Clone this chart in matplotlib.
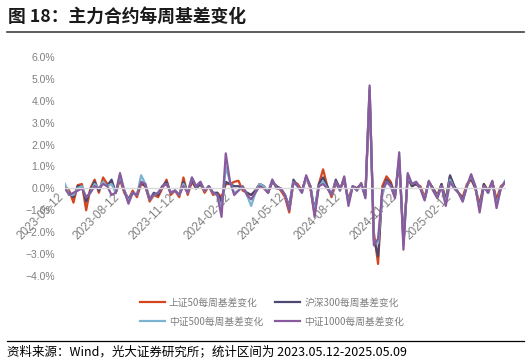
import matplotlib
matplotlib.use("Agg")
import matplotlib.pyplot as plt
import matplotlib.dates as mdates
import matplotlib.transforms as mtransforms
from matplotlib.lines import Line2D
from matplotlib.ticker import PercentFormatter, MultipleLocator
import pandas as pd

plt.rcParams['font.family'] = ['Noto Sans CJK SC', 'DejaVu Sans']

# weekly dates 2023-05-12 .. 2025-05-09
dates = pd.date_range("2023-05-12", periods=105, freq="7D")

# weekly basis change, %
sz50 = [0.1, -0.1, -0.65, 0.15, 0.2, -1.0, 0.0, 0.4, -0.2, 0.5,
        0.2, 0.3, -0.2, 0.4, -0.2, -0.5, -0.1, -0.4, 0.2, 0.1,
        -0.6, -0.3, -0.4, 0.0, 0.4, -0.3, -0.1, -0.4, 0.5, -0.3,
        0.3, 0.0, 0.2, -0.2, 0.1, -0.3, -0.2, -0.4, 0.2, 0.2,
        0.3, 0.35, -0.1, -0.2, -0.3, -0.1, 0.2, 0.1, -0.2, 0.3,
        0.1, -0.1, -0.4, -1.1, 0.3, 0.2, -0.1, 0.5, 0.0, -1.2,
        0.2, 0.87, 0.1, -0.4, 0.2, 0.0, 0.3, -0.5, 0.1, 0.0,
        0.2, -0.3, 4.3, -2.0, -3.45, 0.1, 0.55, 0.3, -0.3, 1.2,
        -2.3, 0.5, 0.1, 0.2, 0.1, -0.4, 0.3, 0.0, -0.3, 0.2,
        -0.5, 0.55, 0.1, -0.2, -0.4, 0.2, 0.4, 0.0, -0.7, 0.2,
        -0.1, 0.3, -0.5, 0.1, 0.25]

hs300 = [0.0, -0.2, -0.4, 0.1, 0.1, -0.6, -0.1, 0.3, -0.1, 0.3,
         0.1, 0.4, -0.2, 0.5, -0.1, -0.5, -0.2, -0.3, 0.3, 0.1,
         -0.5, -0.2, -0.3, 0.1, 0.3, -0.2, -0.1, -0.3, 0.3, -0.2,
         0.4, 0.0, 0.2, -0.1, 0.1, -0.2, -0.2, -0.6, 0.3, 0.2,
         0.1, 0.1, 0.0, -0.2, -0.3, -0.1, 0.2, 0.1, -0.2, 0.3,
         0.1, 0.0, -0.3, -0.8, 0.4, 0.1, -0.1, 0.5, 0.1, -1.0,
         0.2, 0.5, 0.1, -0.3, 0.4, 0.0, 0.4, -0.6, 0.1, 0.0,
         0.2, -0.3, 4.5, -2.3, -3.1, -0.1, 0.4, 0.2, -0.3, 1.3,
         -2.4, 0.5, 0.1, 0.2, 0.0, -0.5, 0.3, 0.0, -0.4, 0.2,
         -0.6, 0.6, 0.1, -0.2, -0.5, 0.1, 0.5, 0.0, -0.9, 0.2,
         -0.2, 0.3, -0.7, 0.0, 0.3]

zz500 = [0.2, -0.3, -0.3, 0.0, 0.1, -0.4, -0.2, 0.2, 0.0, 0.3,
         0.1, 0.2, -0.2, 0.6, -0.1, -0.6, -0.2, -0.3, 0.6, 0.2,
         -0.5, -0.3, -0.2, 0.1, 0.2, -0.2, -0.1, -0.3, 0.2, -0.2,
         0.5, 0.1, 0.3, -0.1, 0.1, -0.2, -0.3, -1.0, 1.0, 0.3,
         -0.2, -0.1, 0.1, -0.3, -0.8, -0.2, 0.2, 0.1, -0.2, 0.4,
         0.0, 0.0, -0.3, -0.9, 0.3, 0.1, -0.2, 0.5, 0.1, -1.1,
         0.1, 0.3, 0.0, -0.3, 0.3, -0.1, 0.5, -0.7, 0.1, -0.1,
         0.2, -0.4, 4.6, -2.4, -2.5, -0.3, 0.3, 0.1, -0.4, 1.5,
         -2.6, 0.6, 0.2, 0.3, 0.0, -0.5, 0.3, -0.1, -0.4, 0.1,
         -0.7, 0.4, 0.0, -0.2, -0.6, 0.1, 0.6, 0.1, -1.0, 0.1,
         -0.2, 0.3, -0.8, 0.0, 0.35]

zz1000 = [0.0, -0.3, -0.2, -0.1, 0.0, -0.4, -0.2, 0.1, 0.0, 0.2,
          0.1, -0.3, -0.2, 0.7, -0.1, -0.7, -0.2, -0.3, 0.3, 0.2,
          -0.5, -0.3, -0.2, 0.1, 0.2, -0.2, -0.1, -0.3, 0.1, -0.2,
          0.5, 0.1, 0.3, -0.1, 0.1, -0.2, -0.3, -1.3, 1.6, 0.3,
          -0.3, -0.1, 0.1, -0.3, -0.5, -0.2, 0.1, 0.0, -0.2, 0.4,
          0.0, 0.0, -0.3, -1.0, 0.3, 0.1, -0.2, 0.6, 0.1, -1.3,
          0.1, 0.2, 0.0, -0.3, 0.3, -0.1, 0.55, -0.8, 0.1, -0.1,
          0.25, -0.45, 4.7, -2.6, -2.3, -0.1, 0.3, 0.1, -0.45, 1.65,
          -2.8, 0.7, 0.2, 0.3, 0.0, -0.55, 0.35, -0.1, -0.45, 0.1,
          -0.8, 0.3, 0.0, -0.2, -0.6, 0.1, 0.65, 0.1, -1.1, 0.1,
          -0.2, 0.35, -0.9, 0.0, 0.3]

names = ["上证50每周基差变化", "沪深300每周基差变化", "中证500每周基差变化", "中证1000每周基差变化"]
colors = ["#D4461F", "#4A4870", "#7DB3CF", "#8A5A9F"]
tick_dates = pd.date_range("2023-05-12", periods=8, freq=pd.DateOffset(months=3))

fig = plt.figure(figsize=(5.31, 3.64), dpi=100)
ax = fig.add_axes([65 / 531, 1 - 276 / 364, 440 / 531, 219 / 364])

lines = {}
for name, vals, c in zip(names, [sz50, hs300, zz500, zz1000], colors):
    lines[name], = ax.plot(dates, vals, color=c, lw=1.6)

ax.set_ylim(-4, 6)
ax.set_xlim(dates[0], dates[-1])
ax.yaxis.set_major_locator(MultipleLocator(1))
ax.yaxis.set_major_formatter(PercentFormatter(decimals=1))
for s in ["top", "right", "left"]:
    ax.spines[s].set_visible(False)
ax.spines["bottom"].set_position(("data", 0))
ax.spines["bottom"].set_color("#D9D9D9")
ax.spines["bottom"].set_linewidth(1.0)

ax.set_xticks(tick_dates)
ax.xaxis.set_major_formatter(mdates.DateFormatter("%Y-%m-%d"))
ax.tick_params(axis="y", length=0, pad=7, labelsize=7.5, labelcolor="#7F7F7F")
ax.tick_params(axis="x", length=0, pad=2, labelsize=8.5, labelcolor="#7F7F7F")
off = mtransforms.ScaledTranslation(-5 / 72, 0, fig.dpi_scale_trans)
for lab in ax.get_xticklabels():
    lab.set_rotation(45)
    lab.set_ha("right")
    lab.set_va("top")
    lab.set_rotation_mode("anchor")
    lab.set_fontfamily(["Liberation Sans", "DejaVu Sans"])
    lab.set_transform(lab.get_transform() + off)
for lab in ax.get_yticklabels():
    lab.set_fontfamily(["Liberation Sans", "DejaVu Sans"])

order = [names[0], names[2], names[1], names[3]]
leg = fig.legend([lines[n] for n in order], order, loc="center",
                 bbox_to_anchor=(272 / 531, 1 - 312 / 364), ncol=2, frameon=False,
                 fontsize=7, handlelength=2.6, columnspacing=1.2, labelspacing=0.9,
                 handletextpad=0.4)
for t in leg.get_texts():
    t.set_color("#7F7F7F")

fig.text(8 / 531, 1 - 17 / 364, "图 18：主力合约每周基差变化", fontsize=12.8,
         fontweight="bold", va="center", ha="left", color="#1a1a1a")
fig.add_artist(Line2D([7 / 531, 524 / 531], [1 - 32 / 364, 1 - 32 / 364],
                      color="#404040", lw=1.2))
fig.add_artist(Line2D([7 / 531, 524 / 531], [1 - 341 / 364, 1 - 341 / 364],
                      color="#000000", lw=0.9))
fig.text(7 / 531, 1 - 352 / 364, "资料来源：Wind，光大证券研究所；统计区间为 2023.05.12-2025.05.09",
         fontsize=9, va="center", ha="left", color="#000000")

fig.savefig("out.png", dpi=100)
